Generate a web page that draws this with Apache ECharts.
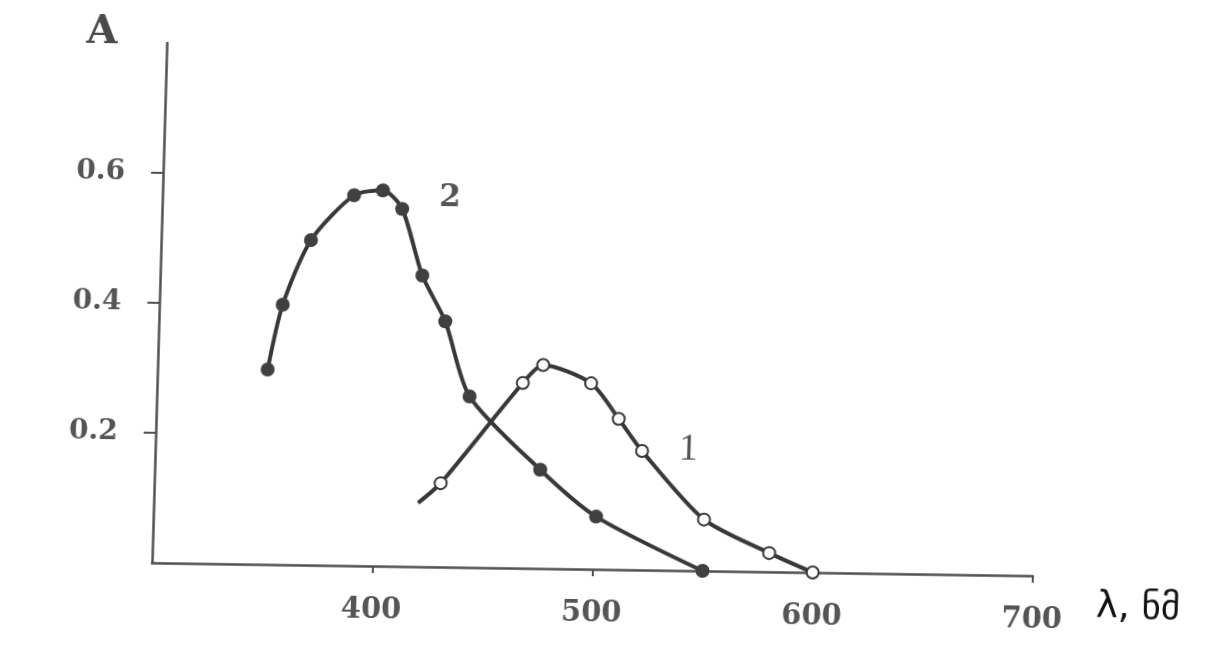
<!DOCTYPE html>
<html>
<head>
<meta charset="utf-8">
<script src="https://cdn.jsdelivr.net/npm/echarts@6/dist/echarts.min.js"></script>
<style>
  html, body { margin: 0; padding: 0; background: #ffffff; overflow: hidden; }
  /* the plotted sheet sits slightly askew, as on the printed page */
  #chart {
    position: absolute; left: 0; top: 0;
    width: 1216px; height: 661px;
    transform-origin: 152px 563px;
    transform: matrix(1, 0.0147, -0.0285, 1, 0, 0);
  }
</style>
</head>
<body>
<div id="chart"></div>
<script>
// Absorption spectra: wavelength (nm) vs absorbance A
const curve1Wavelength = [420, 430, 466, 475, 497, 510, 521, 550, 580, 600];
const curve1Absorbance = [0.098, 0.129, 0.285, 0.313, 0.286, 0.232, 0.183, 0.079, 0.029, 0.0];

const curve2Wavelength = [350, 356, 368, 387, 400, 409, 419, 430, 442, 475, 501, 550];
const curve2Absorbance = [0.30, 0.40, 0.50, 0.57, 0.578, 0.55, 0.448, 0.378, 0.263, 0.152, 0.081, 0.0];

const curveNames = ['1', '2'];
const curveLabelAt = [[542, 0.186], [430.5, 0.567]];

const xAxisName = 'λ, ნმ';
const yAxisName = 'A';

const ink = '#383838';
const labelGray = '#555555';

function pairs(xs, ys) {
  return xs.map((x, i) => [x, ys[i]]);
}

// curve 1 begins with a bare line segment before its first marker
const curve1Data = pairs(curve1Wavelength, curve1Absorbance).map((p, i) =>
  i === 0 ? { value: p, symbol: 'none' } : p
);
const curve2Data = pairs(curve2Wavelength, curve2Absorbance);

function curveTag(name, coord) {
  return {
    symbol: 'circle',
    symbolSize: 1,
    itemStyle: { color: 'rgba(0,0,0,0)' },
    label: {
      show: true,
      position: 'inside',
      formatter: name,
      color: labelGray,
      fontFamily: name === '1' ? 'Liberation Serif' : 'DejaVu Serif',
      fontWeight: name === '1' ? 'normal' : 'bold',
      fontSize: name === '1' ? 38 : 31
    },
    data: [{ coord: coord }]
  };
}

const chart = echarts.init(document.getElementById('chart'), null, { renderer: 'canvas' });

chart.setOption({
  backgroundColor: '#ffffff',
  animation: false,
  grid: { left: 152, top: 43, width: 881, height: 520, containLabel: false },
  xAxis: {
    type: 'value',
    min: 300,
    max: 700,
    interval: 100,
    name: xAxisName,
    nameLocation: 'end',
    nameGap: 64,
    nameTextStyle: {
      fontFamily: 'DejaVu Sans',
      fontSize: 37,
      color: '#111111',
      align: 'left',
      verticalAlign: 'top',
      padding: [13, 0, 0, 0]
    },
    axisLine: { show: true, lineStyle: { color: '#505050', width: 2.5 } },
    axisTick: { show: true, inside: false, length: 7, lineStyle: { color: '#505050', width: 2 } },
    axisLabel: {
      showMinLabel: false,
      margin: 30,
      fontFamily: 'DejaVu Serif',
      fontWeight: 'bold',
      fontSize: 29,
      color: labelGray
    },
    splitLine: { show: false }
  },
  yAxis: {
    type: 'value',
    min: 0,
    max: 0.8,
    interval: 0.2,
    name: yAxisName,
    nameLocation: 'end',
    nameGap: 9,
    nameTextStyle: {
      fontFamily: 'DejaVu Serif',
      fontWeight: 'bold',
      fontSize: 40,
      color: '#4a4a4a',
      align: 'center',
      verticalAlign: 'middle',
      padding: [0, 130, 0, 0]
    },
    axisLine: { show: true, lineStyle: { color: '#505050', width: 2.5 } },
    axisTick: { show: true, inside: false, length: 12, lineStyle: { color: '#505050', width: 2 } },
    axisLabel: {
      showMinLabel: false,
      showMaxLabel: false,
      margin: 38,
      fontFamily: 'DejaVu Serif',
      fontWeight: 'bold',
      fontSize: 28,
      color: labelGray
    },
    splitLine: { show: false }
  },
  series: [
    {
      name: curveNames[0],
      type: 'line',
      data: curve1Data,
      smooth: 0.25,
      clip: false,
      symbol: 'emptyCircle',
      symbolSize: 12,
      lineStyle: { color: ink, width: 4 },
      itemStyle: { color: ink, borderColor: ink, borderWidth: 2.5 },
      markPoint: curveTag(curveNames[0], curveLabelAt[0]),
      z: 3
    },
    {
      name: curveNames[1],
      type: 'line',
      data: curve2Data,
      smooth: 0.25,
      clip: false,
      symbol: 'circle',
      symbolSize: 14,
      lineStyle: { color: ink, width: 4 },
      itemStyle: { color: '#404040' },
      markPoint: curveTag(curveNames[1], curveLabelAt[1]),
      z: 4
    }
  ]
});
</script>
</body>
</html>
